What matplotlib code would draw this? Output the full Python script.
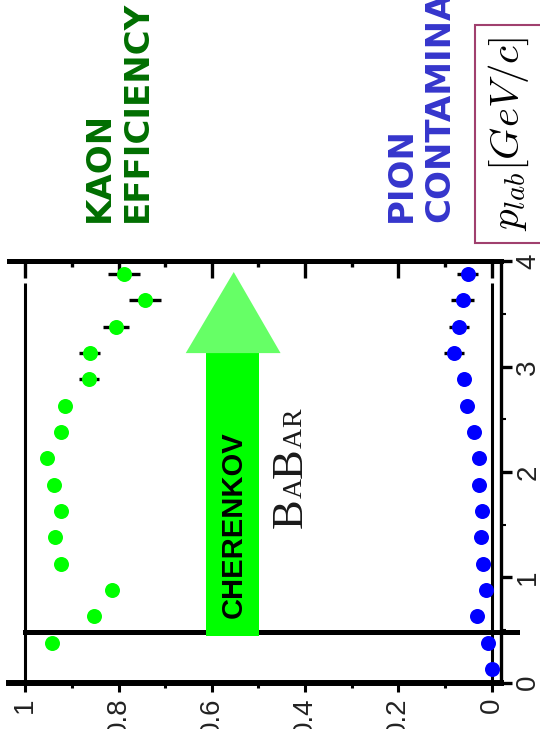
import matplotlib
matplotlib.use("Agg")
import matplotlib.pyplot as plt
from matplotlib.patches import Rectangle, Polygon

# Data (momentum in GeV/c, efficiency / contamination)
kaon_p = [0.38, 0.63, 0.88, 1.13, 1.38, 1.63, 1.88, 2.13, 2.38, 2.63, 2.88, 3.13, 3.38, 3.63, 3.88]
kaon_eff = [0.942, 0.853, 0.814, 0.923, 0.936, 0.923, 0.938, 0.954, 0.923, 0.916, 0.864, 0.862, 0.805, 0.743, 0.789]
kaon_err = [0.008, 0.008, 0.008, 0.008, 0.008, 0.008, 0.008, 0.008, 0.008, 0.008, 0.022, 0.022, 0.028, 0.034, 0.034]

pion_p = [0.13, 0.38, 0.63, 0.88, 1.13, 1.38, 1.63, 1.88, 2.13, 2.38, 2.63, 2.88, 3.13, 3.38, 3.63, 3.88]
pion_cont = [0.0, 0.007, 0.031, 0.012, 0.019, 0.022, 0.020, 0.026, 0.026, 0.038, 0.052, 0.058, 0.081, 0.070, 0.062, 0.051]
pion_err = [0.004, 0.004, 0.004, 0.004, 0.004, 0.004, 0.004, 0.004, 0.004, 0.004, 0.005, 0.005, 0.021, 0.022, 0.025, 0.022]

eff_ticks = [1, 0.8, 0.6, 0.4, 0.2, 0]
eff_labels = ["1", "0.8", "0.6", "0.4", "0.2", "0"]
p_ticks = [0, 1, 2, 3, 4]

plt.rcParams["mathtext.fontset"] = "cm"

fig = plt.figure(figsize=(5.4, 7.29), dpi=100)
ax = fig.add_axes([0.0159, 0.0635, 0.9119, 0.5778])
ax.set_xlim(1.036, -0.0204)
ax.set_ylim(0, 4)

# reference lines of the original frame and the threshold line
ax.vlines([1, 0], 0, 3.8, color="black", lw=2.2, zorder=2)
ax.plot([1.0, -0.055], [0.485, 0.485], color="black", lw=3.6, clip_on=False, zorder=2)

# Cherenkov arrow
ax.add_patch(Rectangle((0.4998, 0.44), 0.1122, 2.73, color="#00ff00", lw=0, zorder=3))
ax.add_patch(Polygon([(0.656, 3.13), (0.4525, 3.13), (0.553, 3.90)], closed=True,
                     color="#66ff66", lw=0, zorder=3))
ax.text(0.553, 1.505, "CHERENKOV", rotation=90, ha="center", va="center",
        fontsize=21, fontweight="bold", family="Liberation Sans", zorder=4)

ax.errorbar(kaon_eff, kaon_p, xerr=kaon_err, fmt="o", color="#00ff00", ecolor="black",
            elinewidth=2.4, capsize=0, markersize=10.8, markeredgewidth=0, zorder=5)
ax.errorbar(pion_cont, pion_p, xerr=pion_err, fmt="o", color="#0000ff", ecolor="black",
            elinewidth=2.4, capsize=0, markersize=10.8, markeredgewidth=0, zorder=5)

# BABAR logo, small caps
prev = ax.text(0.408, 1.466, "B", rotation=90, rotation_mode="anchor", ha="left",
               va="baseline", fontsize=32, family="Liberation Serif", color="#1a1a1a")
for ch, size in [("A", 20), ("B", 32), ("A", 20), ("R", 20)]:
    prev = ax.annotate(ch, xy=(0.408, 1), xycoords=("data", prev), xytext=(0, 0.3),
                       textcoords="offset points", rotation=90, rotation_mode="anchor",
                       ha="left", va="baseline", fontsize=size, family="Liberation Serif",
                       color="#1a1a1a")

# axes styling
ax.spines["left"].set_visible(False)
ax.spines["top"].set_linewidth(3.6)
ax.spines["bottom"].set_linewidth(4.3)
ax.spines["right"].set_linewidth(2.4)

ax.set_xticks(eff_ticks)
ax.set_xticklabels(eff_labels, rotation=90, fontsize=20, family="Liberation Sans", color="#222222")
ax.set_xticks([0.9, 0.7, 0.5, 0.3, 0.1], minor=True)
ax.tick_params(axis="x", which="major", direction="out", length=6.3, width=2.2, pad=4.5)
ax.tick_params(axis="x", which="minor", direction="out", length=3.6, width=2.2)

ax.yaxis.tick_right()
ax.set_yticks(p_ticks)
ax.set_yticks([0.5, 1.5, 2.5, 3.5], minor=True)
ax.set_yticklabels([str(t) for t in p_ticks], rotation=90, va="center", fontsize=20,
                   family="Liberation Sans", color="#222222")
ax.tick_params(axis="y", which="major", direction="out", length=7.7, width=2.4, pad=2.5)
ax.tick_params(axis="y", which="minor", direction="out", length=3.3, width=1.5)

top = ax.secondary_xaxis("top")
for side in ["left", "right", "bottom"]:
    top.spines[side].set_visible(False)
top.set_xticks(eff_ticks)
top.set_xticks([0.9, 0.7, 0.5, 0.3, 0.1], minor=True)
top.tick_params(axis="x", which="major", direction="in", length=12, width=2.4, labeltop=False)
top.tick_params(axis="x", which="minor", direction="in", length=4.5, width=2.4)
top.spines["top"].set_linewidth(3.6)

# titles above the plot
ax.text(0.841, 4.378, "KAON", rotation=90, ha="center", va="bottom", fontsize=24.5,
        fontweight="bold", color="#006e00")
ax.text(0.760, 4.378, "EFFICIENCY", rotation=90, ha="center", va="bottom", fontsize=24.5,
        fontweight="bold", color="#006e00")
ax.text(0.193, 4.375, "PION", rotation=90, ha="center", va="bottom", fontsize=24.5,
        fontweight="bold", color="#3535cc")
ax.text(0.111, 4.375, "CONTAMINATION", rotation=90, ha="center", va="bottom", fontsize=24.5,
        fontweight="bold", color="#3535cc")

ax.text(-0.0376, 5.21, r"$p_{lab}[GeV/c]$", rotation=90, ha="center", va="center",
        fontsize=29.5, bbox=dict(boxstyle="square,pad=0.3", fc="white", ec="#a0406e", lw=1.5))

fig.savefig("out.png", dpi=100)
